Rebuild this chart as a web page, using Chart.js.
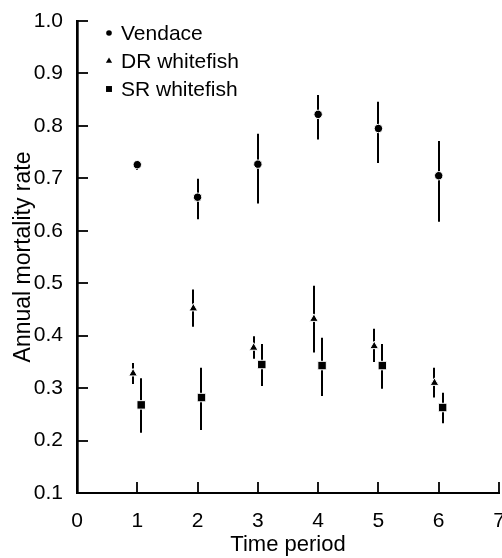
<!DOCTYPE html>
<html>
<head>
<meta charset="utf-8">
<script src="https://cdn.jsdelivr.net/npm/chart.js@4/dist/chart.umd.min.js"></script>
<style>
  html, body { margin: 0; padding: 0; background: #fff; }
  #wrap { width: 502px; height: 558px; }
</style>
</head>
<body>
<div id="wrap"><canvas id="chart" width="502" height="558"></canvas></div>
<script>
// Time periods and series
const periods = [1, 2, 3, 4, 5, 6]
const seriesNames = ['Vendace', 'DR whitefish', 'SR whitefish']

const vendace = [0.726, 0.664, 0.727, 0.822, 0.795, 0.705]
const vendaceLo = [0.716, 0.622, 0.652, 0.774, 0.729, 0.617]
const vendaceHi = [0.728, 0.699, 0.785, 0.859, 0.846, 0.771]

const drWhitefish = [0.328, 0.452, 0.377, 0.432, 0.380, 0.310]
const drLo = [0.308, 0.417, 0.356, 0.368, 0.350, 0.282]
const drHi = [0.348, 0.488, 0.399, 0.495, 0.413, 0.339]

const srWhitefish = [0.268, 0.282, 0.345, 0.343, 0.343, 0.263]
const srLo = [0.215, 0.220, 0.304, 0.285, 0.299, 0.233]
const srHi = [0.319, 0.339, 0.384, 0.396, 0.384, 0.291]

const xTicks = [0, 1, 2, 3, 4, 5, 6, 7]
const yTicks = [0.1, 0.2, 0.3, 0.4, 0.5, 0.6, 0.7, 0.8, 0.9, 1.0]

// small horizontal dodge so the whitefish series don't overlap
const dodge = [0, -0.07, 0.065]
const FONT = "'Liberation Sans', Arial, sans-serif"

const toPoints = (vals, lo, hi, off) =>
  vals.map((v, i) => ({ x: periods[i] + off, y: v, lo: lo[i], hi: hi[i] }))

// vertical error bars, drawn under the markers
const errorBars = {
  id: 'errorBars',
  beforeDatasetsDraw(chart) {
    const { ctx, scales: { x, y } } = chart
    ctx.save()
    ctx.strokeStyle = '#000'
    ctx.lineWidth = 2
    chart.data.datasets.forEach(ds => {
      ds.data.forEach(p => {
        const px = Math.round(x.getPixelForValue(p.x))
        ctx.beginPath()
        ctx.moveTo(px, y.getPixelForValue(p.lo))
        ctx.lineTo(px, y.getPixelForValue(p.hi))
        ctx.stroke()
      })
    })
    ctx.restore()
  }
}

// inward tick marks + legend inside the plot, top-left
const decorations = {
  id: 'decorations',
  afterDraw(chart) {
    const { ctx, chartArea, scales: { x, y } } = chart
    const len = 11
    ctx.save()
    ctx.strokeStyle = '#000'
    ctx.lineWidth = 1.8
    xTicks.forEach(v => {
      const px = Math.round(x.getPixelForValue(v))
      ctx.beginPath()
      ctx.moveTo(px, chartArea.bottom)
      ctx.lineTo(px, chartArea.bottom - len)
      ctx.stroke()
    })
    yTicks.forEach(v => {
      const py = Math.round(y.getPixelForValue(v))
      ctx.beginPath()
      ctx.moveTo(chartArea.left, py)
      ctx.lineTo(chartArea.left + len, py)
      ctx.stroke()
    })

    const sizes = [2.8, 3.6, 4.2]
    ctx.font = `21px ${FONT}`
    ctx.textBaseline = 'middle'
    ctx.fillStyle = '#000'
    chart.data.datasets.forEach((ds, i) => {
      const cy = chartArea.top + 12 + i * 28
      Chart.helpers.drawPoint(ctx, { pointStyle: ds.pointStyle, radius: sizes[i], rotation: 0, borderWidth: 0 }, chartArea.left + 32, cy)
      ctx.fillText(ds.label, chartArea.left + 44, cy + 1)
    })
    ctx.restore()
  }
}

const common = { showLine: false, backgroundColor: '#000', borderColor: '#fff', borderWidth: 1 }

new Chart(document.getElementById('chart'), {
  type: 'scatter',
  data: {
    datasets: [
      { ...common, label: seriesNames[0], data: toPoints(vendace, vendaceLo, vendaceHi, dodge[0]), pointStyle: 'circle', pointRadius: 4.2 },
      { ...common, label: seriesNames[1], data: toPoints(drWhitefish, drLo, drHi, dodge[1]), pointStyle: 'triangle', pointRadius: 5 },
      { ...common, label: seriesNames[2], data: toPoints(srWhitefish, srLo, srHi, dodge[2]), pointStyle: 'rect', pointRadius: 6 }
    ]
  },
  options: {
    responsive: false,
    animation: false,
    layout: { autoPadding: false, padding: { top: 21, right: 3, left: 0, bottom: 0 } },
    plugins: { legend: { display: false }, tooltip: { enabled: false } },
    scales: {
      x: {
        type: 'linear',
        min: 0,
        max: 7,
        afterBuildTicks: (s) => { s.ticks = xTicks.map(v => ({ value: v })) },
        afterFit: (s) => { s.height = 65; s.paddingLeft = 0; s.paddingRight = 0 },
        border: { color: '#000', width: 2 },
        grid: { display: false },
        ticks: { color: '#000', padding: 8, font: { family: FONT, size: 21 }, maxRotation: 0 },
        title: { display: true, text: 'Time period', color: '#000', font: { family: FONT, size: 22 }, padding: { top: 0, bottom: 0 } }
      },
      y: {
        type: 'linear',
        min: 0.1,
        max: 1.0,
        afterBuildTicks: (s) => { s.ticks = yTicks.map(v => ({ value: v })) },
        afterFit: (s) => { s.width = 77; s.paddingTop = 0; s.paddingBottom = 0 },
        border: { color: '#000', width: 2.7 },
        grid: { display: false },
        ticks: { color: '#000', padding: 6, font: { family: FONT, size: 21 }, callback: (v) => v.toFixed(1) },
        title: { display: true, text: 'Annual mortality rate', color: '#000', font: { family: FONT, size: 23 }, padding: { top: 10, bottom: 0 } }
      }
    }
  },
  plugins: [errorBars, decorations]
})
</script>
</body>
</html>
